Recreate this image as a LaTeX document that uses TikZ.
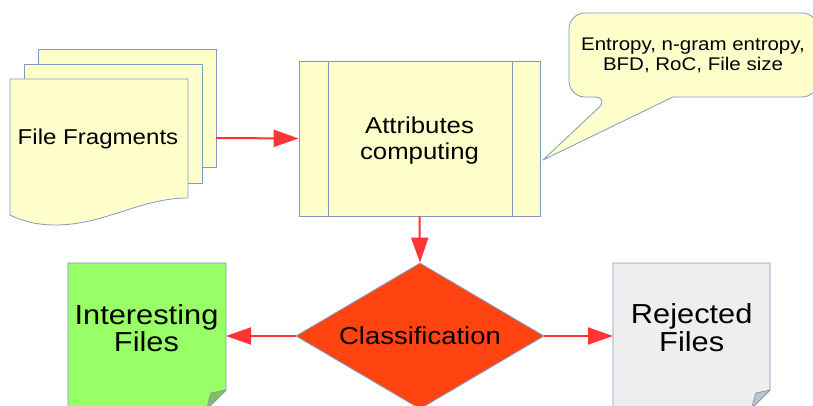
\documentclass[tikz,border=0pt]{standalone}
\usepackage{fontspec}
\setmainfont{Liberation Sans}[FakeStretch=1.12]
\usetikzlibrary{arrows.meta,shapes.geometric}

\definecolor{paper}{HTML}{FFFFCC}
\definecolor{edge}{HTML}{7F9BC4}
\definecolor{flow}{HTML}{FF3535}
\definecolor{decide}{HTML}{FF4411}
\definecolor{keep}{HTML}{99FF66}
\definecolor{keepfold}{HTML}{7CC35A}
\definecolor{drop}{HTML}{EEEEEE}
\definecolor{dropfold}{HTML}{BFC3CB}

\tikzset{
  outline/.style={draw=edge, line width=0.8pt, line join=round},
  sheet/.style={outline, fill=paper},
  flowarrow/.style={draw=flow, line width=2pt,
    -{Triangle[length=25pt,width=17pt]}},
  label/.style={inner sep=0pt, align=center, text=black},
}

\begin{document}
\begin{tikzpicture}[x=1pt, y=-1pt]
  \clip (0,0) rectangle (813,406);
  \fill[white] (0,0) rectangle (813,406);

  % stack of file fragments
  \path[sheet] (38,49.5) rectangle (216,167);
  \path[sheet] (24,64) rectangle (202,183);
  \path[sheet] (10,79) -- (188,79) -- (188,198)
    .. controls (140,198) and (105,225) .. (55,225)
    .. controls (35,225) and (20,220) .. (10,215) -- cycle;
  \node[label, anchor=base, font=\fontsize{21.5}{25}\selectfont]
    (fragments) at (98,145) {File Fragments};
  \coordinate (fragout) at (216,138);

  % predefined process box
  \node[sheet, rectangle, inner sep=0pt, minimum width=241pt,
    minimum height=155pt] (attr) at (419.5,138.5) {};
  \draw[outline] (328,61) -- (328,216);
  \draw[outline] (512,61) -- (512,216);
  \node[label, font=\fontsize{23}{26.7}\selectfont]
    (attrlabel) at (419.5,140.6) {Attributes\\computing};

  % callout with the attribute list
  \path[sheet] (673,97) [rounded corners=16pt] -- (818,97) -- (818,13)
    -- (569,13) -- (569,97) -- (610,97) [sharp corners] -- (543,160) -- cycle;
  \node[label, font=\fontsize{18.3}{20.3}\selectfont]
    (features) at (693,55.6) {Entropy, n-gram entropy,\\BFD, RoC, File size};

  % decision
  \node[diamond, outline, fill=decide, inner sep=0pt, aspect=1.7,
    minimum width=248pt, minimum height=146pt,
    font=\fontsize{24.5}{28}\selectfont] (classify) at (420,336)
    {Classification};

  % interesting files page with folded corner
  \path[outline, fill=keep] (68,263) -- (226,263) -- (226,390)
    -- (205,411) -- (68,411) -- cycle;
  \path[outline, fill=keepfold] (226,390) -- (211,393)
    .. controls (209,399) .. (207,409) -- cycle;
  \node[label, font=\fontsize{27.5}{26.7}\selectfont]
    (interesting) at (146.5,328.5) {Interesting\\Files};
  \coordinate (keepin) at (226,336);

  % rejected files page with folded corner
  \path[outline, fill=drop] (613,263) -- (770,263) -- (770,390)
    -- (749,411) -- (613,411) -- cycle;
  \path[outline, fill=dropfold] (770,390) -- (756,393)
    .. controls (754,399) .. (752,408) -- cycle;
  \node[label, font=\fontsize{27.5}{27.5}\selectfont]
    (rejected) at (691.7,327.5) {Rejected\\Files};
  \coordinate (dropin) at (613,336);

  % flow
  \draw[flowarrow] (fragout) -- (attr.west);
  \draw[flowarrow] (attr.south) -- (classify.north);
  \draw[flowarrow] (classify.west) -- (keepin);
  \draw[flowarrow] (classify.east) -- (dropin);
\end{tikzpicture}
\end{document}
